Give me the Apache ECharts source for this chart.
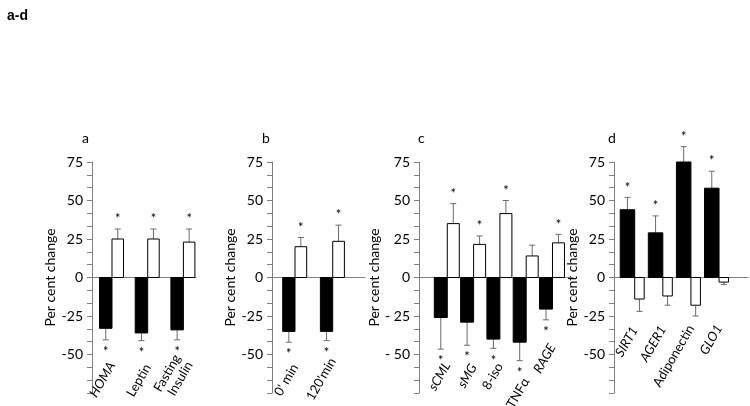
<!DOCTYPE html>
<html>
<head>
<meta charset="utf-8">
<script src="https://cdn.jsdelivr.net/npm/echarts@6/dist/echarts.min.js"></script>
<style>
  html, body { margin: 0; padding: 0; background: #fff; }
  #main { width: 750px; height: 406px; }
</style>
</head>
<body>
<div id="main"></div>
<script>
// ---- data (per cent change) ----
// a
const catA = ['HOMA', 'Leptin', 'Fasting\nInsulin'];
const blackA = [-33, -36, -34];
const blackErrA = [7.5, 5, 6.5];
const whiteA = [25, 25, 23];
const whiteErrA = [6.5, 6.5, 8.5];
const blackStarA = [1, 1, 1];
const whiteStarA = [1, 1, 1];
// b
const catB = ["0' min", "120'min"];
const blackB = [-35, -35];
const blackErrB = [7, 6];
const whiteB = [20, 23.5];
const whiteErrB = [6, 10.5];
const blackStarB = [1, 1];
const whiteStarB = [1, 1];
// c
const catC = ['sCML', 'sMG', '8-iso', 'TNFα', 'RAGE'];
const blackC = [-26, -29, -40, -42, -20.5];
const blackErrC = [20.5, 15, 6, 12, 7];
const whiteC = [35, 21.5, 41.5, 14, 22.5];
const whiteErrC = [13, 5.5, 8.5, 7, 5.5];
const blackStarC = [1, 1, 1, 1, 1];
const whiteStarC = [1, 1, 1, 0, 1];
// d
const catD = ['SIRT1', 'AGER1', 'Adiponectin', 'GLO1'];
const blackD = [44, 29, 75, 58];
const blackErrD = [8, 11, 10, 11];
const whiteD = [-14, -12, -18, -3];
const whiteErrD = [8, 6, 7, 1.5];
const blackStarD = [1, 1, 1, 1];
const whiteStarD = [0, 0, 0, 0];

const italicNames = ['HOMA', 'sCML', 'sMG', 'RAGE', 'SIRT1', 'AGER1', 'GLO1'];
const yMin = -75, yMax = 75, yStep = 25;

const FONT = 'Lato';
const axisGray = '#808080';

// layout for each panel (pixels / axis extents)
// labelRow: distance (px) from the bottom of the y range up to each label's anchor
const panels = [
  { key: 'a', cats: catA, black: blackA, blackErr: blackErrA, white: whiteA, whiteErr: whiteErrA,
    blackStar: blackStarA, whiteStar: whiteStarA,
    left: 92, width: 104, xMin: -0.56, xMax: 2.353, bw: 12.5, ww: 11.5, titleLeft: 77, dash: '-',
    labelRow: [32, 30, 36] },
  { key: 'b', cats: catB, black: blackB, blackErr: blackErrB, white: whiteB, whiteErr: whiteErrB,
    blackStar: blackStarB, whiteStar: whiteStarB,
    left: 272, width: 93, xMin: -0.61, xMax: 1.857, bw: 12.3, ww: 11.7, titleLeft: 257, dash: '-',
    labelRow: [30, 36] },
  { key: 'c', cats: catC, black: blackC, blackErr: blackErrC, white: whiteC, whiteErr: whiteErrC,
    blackStar: blackStarC, whiteStar: whiteStarC,
    left: 419, width: 154, xMin: -1.076, xMax: 4.78, bw: 13, ww: 12, titleLeft: 413, dash: '- ',
    labelRow: [32, 30, 31, 16, 50] },
  { key: 'd', cats: catD, black: blackD, blackErr: blackErrD, white: whiteD, whiteErr: whiteErrD,
    blackStar: blackStarD, whiteStar: whiteStarD,
    left: 614, width: 134, xMin: -0.737, xMax: 4.03, bw: 14.5, ww: 9.5, titleLeft: 603, dash: '-',
    labelRow: [67, 68, 69, 69] }
];

const gridTop = 162;
const gridHeight = 231;

const title = [{
  text: 'a-d', left: 2, top: 4,
  textStyle: { fontFamily: 'Liberation Sans', fontWeight: 'bold', fontSize: 14, color: '#000' }
}];
const grid = [], xAxis = [], yAxis = [], series = [];

panels.forEach(function (p, k) {
  title.push({
    text: p.key, left: p.titleLeft, top: 126,
    textStyle: { fontFamily: FONT, fontWeight: 'normal', fontSize: 14, color: '#000' }
  });
  grid.push({ left: p.left, top: gridTop, width: p.width, height: gridHeight, outerBoundsMode: 'none', containLabel: false });

  // zero line axis
  const zeroAxisIndex = xAxis.length;
  xAxis.push({
    type: 'value', gridIndex: k, min: p.xMin, max: p.xMax, position: 'top',
    axisLine: { show: true, onZero: true, lineStyle: { color: axisGray, width: 1 } },
    axisTick: { show: false }, axisLabel: { show: false }, splitLine: { show: false }
  });

  // label axes: one per label height, only the labels that sit on that row
  const rows = {};
  p.cats.forEach(function (name, i) {
    const r = p.labelRow[i];
    (rows[r] = rows[r] || []).push(i);
  });
  Object.keys(rows).forEach(function (r) {
    xAxis.push({
      type: 'value', gridIndex: k, min: p.xMin, max: p.xMax, position: 'bottom', offset: -Number(r),
      axisLine: { show: false, onZero: false }, axisTick: { show: false }, splitLine: { show: false },
      axisLabel: {
        show: true,
        showMinLabel: true,
        showMaxLabel: true,
        hideOverlap: false,
        customValues: rows[r],
        rotate: 60,
        margin: 2,
        fontFamily: FONT, fontSize: 13, color: '#000', lineHeight: 14,
        formatter: function (v) {
          const name = p.cats[Math.round(v)];
          return italicNames.indexOf(name) >= 0 ? '{i|' + name + '}' : name;
        },
        rich: { i: { fontStyle: 'italic', fontFamily: FONT, fontSize: 13, color: '#000' } }
      }
    });
  });

  yAxis.push({
    type: 'value', gridIndex: k, min: yMin, max: yMax, interval: yStep,
    name: 'Per cent change', nameLocation: 'middle', nameGap: 34,
    nameTextStyle: { fontFamily: FONT, fontSize: 14, color: '#000' },
    axisLine: { show: true, onZero: false, lineStyle: { color: axisGray, width: 1 } },
    axisTick: { show: true, length: 5, lineStyle: { color: axisGray } },
    minorTick: { show: true, splitNumber: 3, length: 5, lineStyle: { color: axisGray } },
    splitLine: { show: false },
    axisLabel: {
      fontFamily: FONT, fontSize: 14, color: '#000', margin: 9,
      formatter: function (v) {
        if (v === yMin) return '';
        return v < 0 ? p.dash + Math.abs(v) : String(v);
      }
    }
  });

  const data = p.cats.map(function (c, i) {
    return [i, p.black[i], p.blackErr[i], p.white[i], p.whiteErr[i], p.blackStar[i], p.whiteStar[i]];
  });

  series.push({
    type: 'custom',
    xAxisIndex: zeroAxisIndex,
    yAxisIndex: k,
    data: data,
    encode: { x: 0, y: [1, 3] },
    clip: false,
    renderItem: function (params, api) {
      const i = api.value(0);
      const zero = api.coord([i, 0]);
      const cx = zero[0];
      const children = [];
      function addBar(x0, x1, v, e, star, fill) {
        const y = api.coord([i, v])[1];
        const ye = api.coord([i, v + (v < 0 ? -e : e)])[1];
        const xc = (x0 + x1) / 2;
        children.push({
          type: 'line', shape: { x1: xc, y1: y, x2: xc, y2: ye },
          style: { stroke: '#6b6b6b', lineWidth: 1 }
        });
        children.push({
          type: 'line', shape: { x1: xc - 3, y1: ye, x2: xc + 3, y2: ye },
          style: { stroke: '#6b6b6b', lineWidth: 1 }
        });
        children.push({
          type: 'rect',
          shape: { x: x0, y: Math.min(zero[1], y), width: x1 - x0, height: Math.abs(y - zero[1]) },
          style: { fill: fill, stroke: '#000', lineWidth: 1 }
        });
        if (star) {
          children.push({
            type: 'text',
            style: {
              x: xc, y: v < 0 ? ye + 12 : ye - 10,
              text: '*', align: 'center', verticalAlign: 'middle',
              fontFamily: FONT, fontSize: 13, fill: '#000'
            }
          });
        }
      }
      addBar(cx - p.bw, cx, api.value(1), api.value(2), api.value(5), '#000');
      addBar(cx, cx + p.ww, api.value(3), api.value(4), api.value(6), '#fff');
      return { type: 'group', children: children };
    },
    z: 3
  });
});

const chart = echarts.init(document.getElementById('main'), null, { renderer: 'canvas' });
chart.setOption({
  backgroundColor: '#fff',
  animation: false,
  title: title,
  grid: grid,
  xAxis: xAxis,
  yAxis: yAxis,
  series: series
});
</script>
</body>
</html>
